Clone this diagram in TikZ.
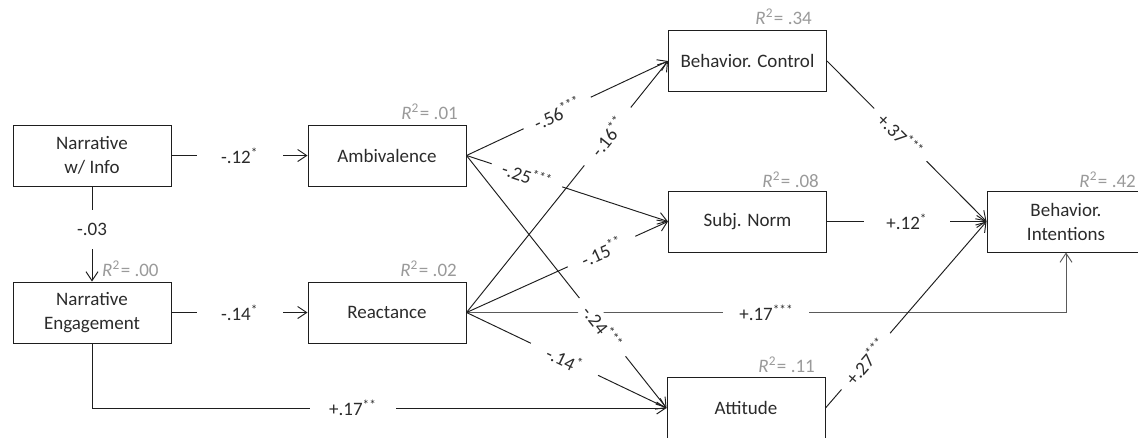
\documentclass[tikz,border=0pt]{standalone}
\usepackage{fontspec}
\setmainfont{Carlito}
\usetikzlibrary{arrows.meta}
\definecolor{txt}{HTML}{2B2B2B}
\definecolor{rsq}{HTML}{9A9A9A}
\definecolor{ln}{HTML}{1E1E1E}
\definecolor{lngray}{HTML}{5A5A5A}
\newcommand{\rsqtext}[1]{\textit{R}\textsuperscript{2}\hspace{1pt}= #1}
\begin{document}
\begin{tikzpicture}[x=1pt,y=-1pt,
  box/.style={draw=ln, line width=1pt, minimum width=158pt, minimum height=61pt,
    inner sep=0pt, align=center, text=txt, font=\fontsize{19}{24}\selectfont},
  conn/.style={draw=ln, line width=0.95pt, -{Straight Barb[length=9pt,width=12pt]}},
  lab/.style={fill=white, text=txt, font=\fontsize{19}{24}\selectfont, inner sep=2pt},
  hlab/.style={lab, minimum width=86pt},
  slab/.style={lab, sloped, minimum width=74pt},
  rsqlab/.style={text=rsq, font=\fontsize{19}{24}\selectfont, inner sep=0pt}]
\useasboundingbox (0,0) rectangle (1138,437);
\clip (0,0) rectangle (1138,437);
\fill[white] (0,0) rectangle (1138,437);

% boxes
\node[box] (info) at (92,155.5) {Narrative\\w/ Info};
\node[box] (amb)  at (387,155.5) {Ambivalence};
\node[box] (eng)  at (92,312.5) {Narrative\\Engagement};
\node[box] (rea)  at (387,312.5) {Reactance};
\node[box] (bc)   at (747.5,61) {Behavior. Control};
\node[box] (sn)   at (747.5,221.5) {Subj. Norm};
\node[box] (att)  at (746,408) {Attitude};
\node[box] (int)  at (1066,221.5) {Behavior.\\Intentions};

% R-squared labels
\node[rsqlab, anchor=base east] (r1) at (458,119) {\rsqtext{.01}};
\node[rsqlab, anchor=base west] (r0) at (102,276) {\rsqtext{.00}};
\node[rsqlab, anchor=base east] (r2) at (457,276) {\rsqtext{.02}};
\node[rsqlab, anchor=base east] (r3) at (812,24) {\rsqtext{.34}};
\node[rsqlab, anchor=base east] (r4) at (819,187) {\rsqtext{.08}};
\node[rsqlab, anchor=base east] (r5) at (815,372) {\rsqtext{.11}};
\node[rsqlab, anchor=base east] (r6) at (1136,187) {\rsqtext{.42}};

% connectors
\draw[conn] (info) -- node[hlab]{-.12\textsuperscript{*}} (amb);
\draw[conn] (info) -- node[lab, pos=0.45, minimum height=39pt]{-.03} (eng);
\draw[conn] (eng) -- node[hlab]{-.14\textsuperscript{*}} (rea);
\draw[conn] (eng.south) |- node[hlab, pos=0.727]{+.17\textsuperscript{**}} (att.west);

\draw[conn, draw=lngray] (rea.east) -| node[hlab, pos=0.25]{+.17\textsuperscript{***}} (int.south);
\draw[conn] (amb.east) -- node[slab, pos=0.68]{-.24\textsuperscript{***}} (att.west);
\draw[conn] (amb.east) -- node[slab, pos=0.3]{-.25\textsuperscript{***}} (sn.west);
\draw[conn] (amb.east) -- node[slab, pos=0.45]{-.56\textsuperscript{***}} (bc.west);
\draw[conn] (rea.east) -- node[slab, pos=0.7]{-.16\textsuperscript{**}} (bc.west);
\draw[conn] (rea.east) -- node[slab, pos=0.67]{-.15\textsuperscript{**}} (sn.west);
\draw[conn] (rea.east) -- node[slab, pos=0.49]{-.14\textsuperscript{*}} (att.west);

\draw[conn] (bc.east) -- node[slab, pos=0.46]{+.37\textsuperscript{***}} (int.west);
\draw[conn] (sn) -- node[hlab]{+.12\textsuperscript{*}} (int);
\draw[conn] (att.east) -- node[slab, pos=0.25]{+.27\textsuperscript{***}} (int.west);
\end{tikzpicture}
\end{document}
